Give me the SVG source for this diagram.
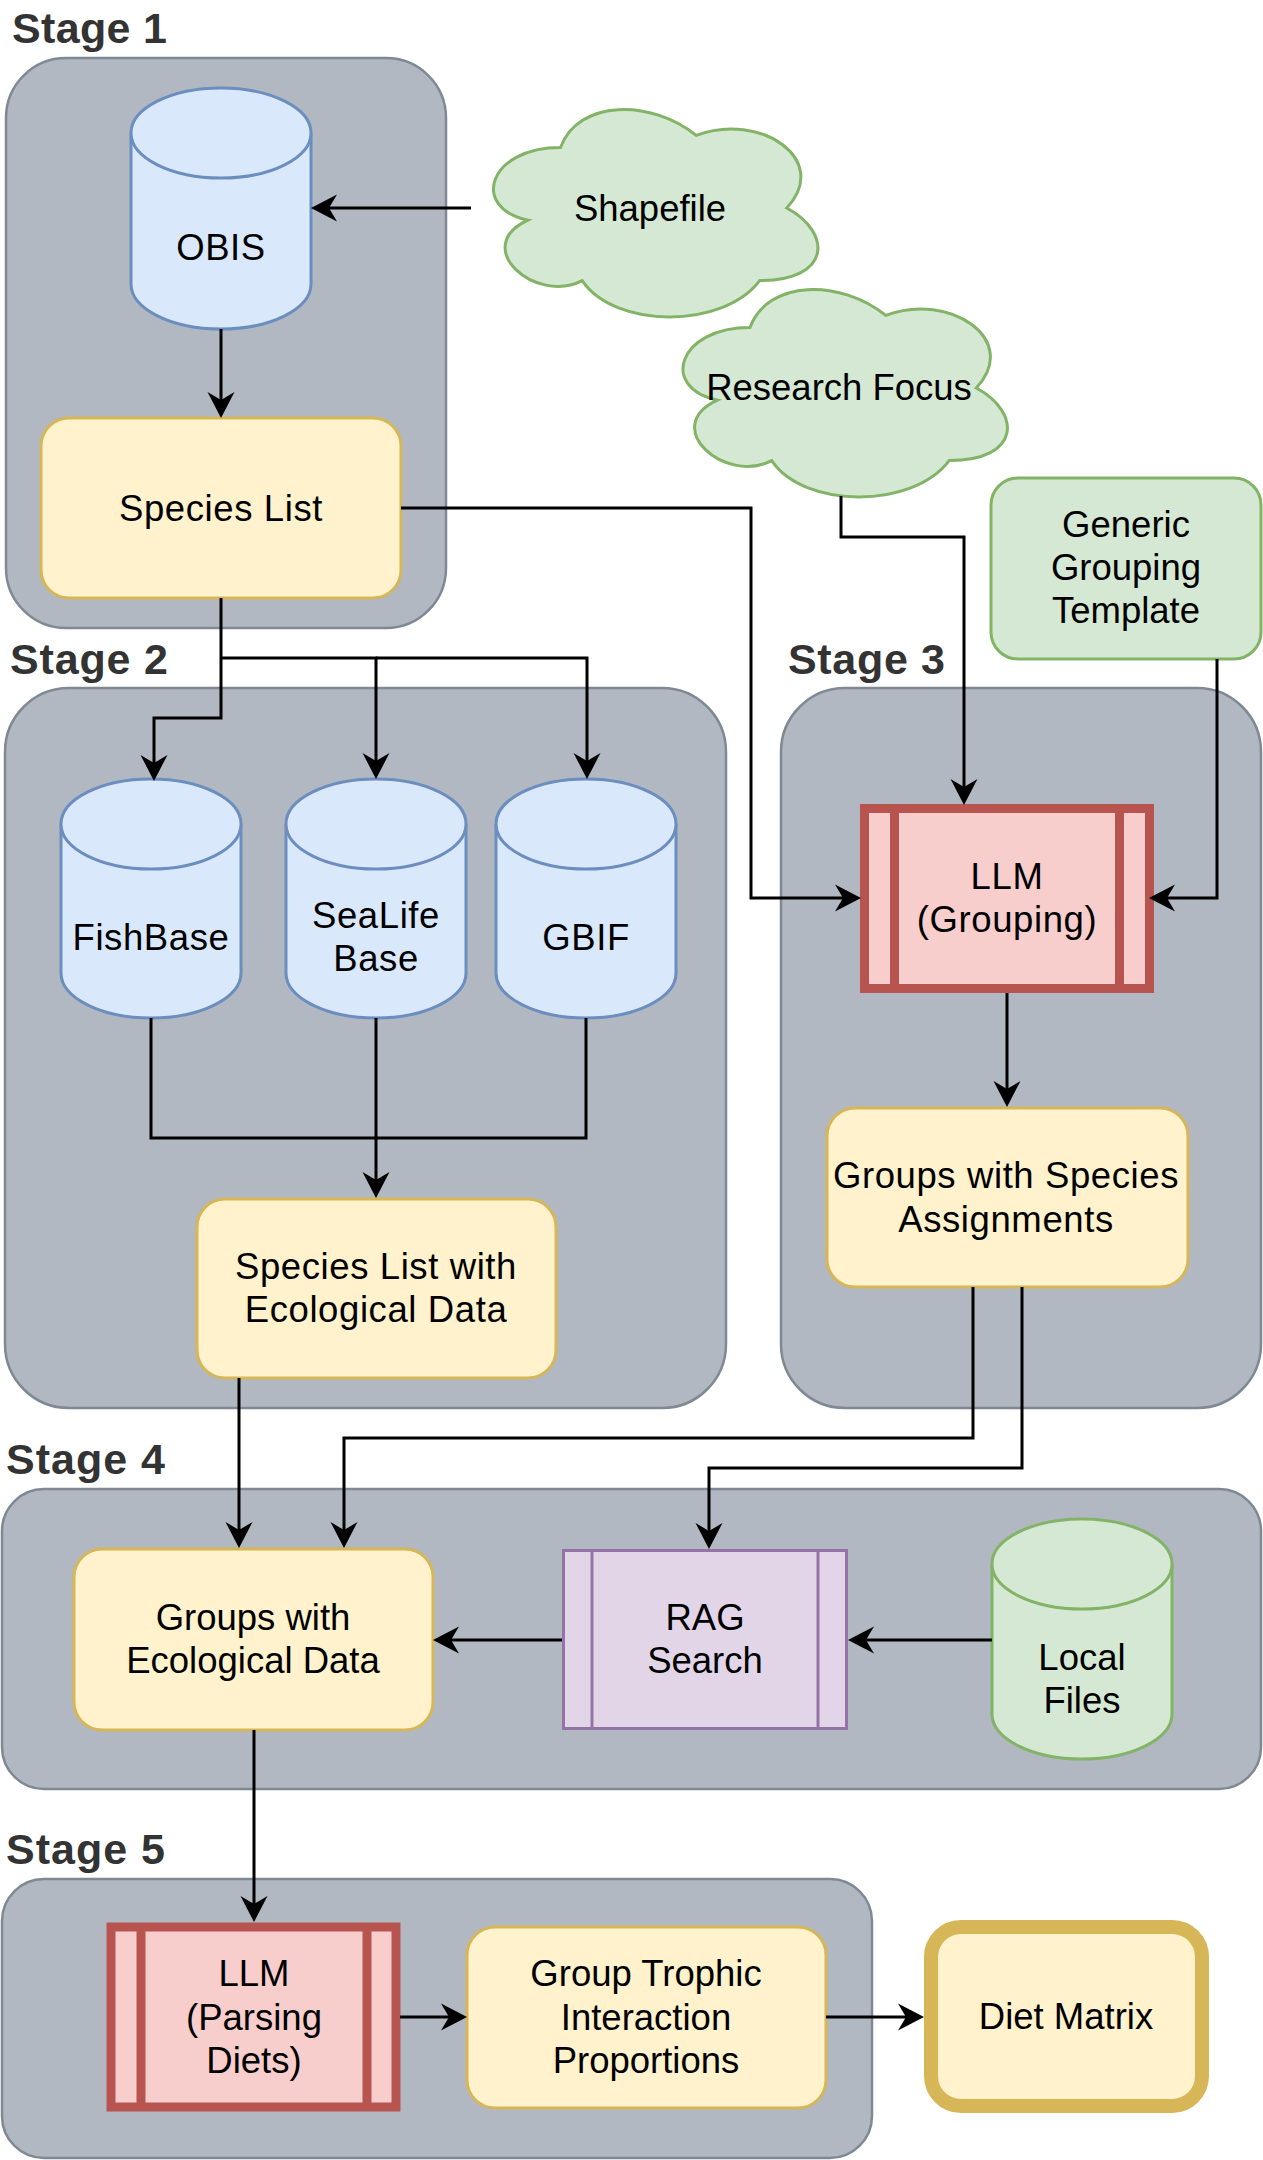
<svg xmlns="http://www.w3.org/2000/svg" xmlns:xlink="http://www.w3.org/1999/xlink" width="1263" height="2160" viewBox="0 0 1263 2160">
<style>
text{font-family:"Liberation Sans",Arial,sans-serif;font-size:36.5px;fill:#000;text-anchor:middle}
.wide{letter-spacing:0.6px}
.stage-label{font-weight:bold;font-size:43px;fill:#333;text-anchor:start}
.stage{fill:#b1b8c1;stroke:#7f8994;stroke-width:2.5}
.yellow{fill:#fff2cc;stroke:#d6b656;stroke-width:3}
.blue{fill:#dae8fc;stroke:#6c8ebf;stroke-width:3}
.green{fill:#d5e8d4;stroke:#82b366;stroke-width:3}
.red{fill:#f8cecc;stroke:#b85450;stroke-width:9}
.purple{fill:#e1d5e7;stroke:#9673a6;stroke-width:3}
.edge{fill:none;stroke:#000;stroke-width:3;marker-end:url(#arrow)}
.line{fill:none;stroke:#000;stroke-width:3}
</style>
<defs>
<marker id="arrow" markerUnits="userSpaceOnUse" viewBox="-23 -14 28 28" markerWidth="28" markerHeight="28" refX="0" refY="0" orient="auto">
<path d="M4,0 L-22,-13.5 L-14,0 L-22,13.5 Z" fill="#000"/>
</marker>
<path id="cloudShape" d="M560.5,147.5 C488.1,147.5 470,208 527.9,220.1 C470,246.7 535.2,304.8 582.2,280.6 C614.8,329 723.4,329 759.6,280.6 C832,280.6 832,232.2 786.75,208 C832,159.6 759.6,111.2 696.25,135.4 C651,99.1 578.6,99.1 560.5,147.5 Z"/>
</defs>

<g id="stages">
<g id="stage1"><rect class="stage" x="6" y="58" width="440" height="570" rx="60" ry="60"/><text class="stage-label" x="12" y="43" textLength="155" lengthAdjust="spacing">Stage 1</text></g>
<g id="stage2"><rect class="stage" x="5" y="688" width="721" height="720" rx="64" ry="64"/><text class="stage-label" x="10" y="674" textLength="158" lengthAdjust="spacing">Stage 2</text></g>
<g id="stage3"><rect class="stage" x="781" y="688" width="480" height="720" rx="64" ry="64"/><text class="stage-label" x="788" y="674" textLength="157" lengthAdjust="spacing">Stage 3</text></g>
<g id="stage4"><rect class="stage" x="2" y="1489" width="1259" height="300" rx="42" ry="42"/><text class="stage-label" x="6" y="1474" textLength="159" lengthAdjust="spacing">Stage 4</text></g>
<g id="stage5"><rect class="stage" x="2" y="1879" width="870" height="279" rx="42" ry="42"/><text class="stage-label" x="6" y="1864" textLength="159" lengthAdjust="spacing">Stage 5</text></g>
</g>

<g id="nodes">
<g id="obis" transform="translate(131,88)"><path class="blue" d="M0,45 A90,45 0 0 1 180,45 L180,196 A90,45 0 0 1 0,196 Z"/><path class="blue" fill="none" d="M0,45 A90,45 0 0 0 180,45"/><text class="wide" x="90" y="172">OBIS</text></g>
<g id="species-list"><rect class="yellow" x="41" y="418" width="360" height="180" rx="28" ry="28"/><text class="wide" x="221" y="521">Species List</text></g>
<g id="shapefile"><use xlink:href="#cloudShape" class="green"/><text x="650" y="221">Shapefile</text></g>
<g id="research-focus"><use xlink:href="#cloudShape" class="green" x="189.5" y="180"/><text x="839" y="400">Research Focus</text></g>
<g id="generic-template"><rect class="green" x="991" y="478" width="270" height="181" rx="27" ry="27"/><text x="1126" y="537">Generic</text><text x="1126" y="580">Grouping</text><text x="1126" y="623">Template</text></g>

<g id="fishbase" transform="translate(61,779)"><path class="blue" d="M0,45 A90,45 0 0 1 180,45 L180,194 A90,45 0 0 1 0,194 Z"/><path class="blue" fill="none" d="M0,45 A90,45 0 0 0 180,45"/><text class="wide" x="90" y="171">FishBase</text></g>
<g id="sealifebase" transform="translate(286,779)"><path class="blue" d="M0,45 A90,45 0 0 1 180,45 L180,194 A90,45 0 0 1 0,194 Z"/><path class="blue" fill="none" d="M0,45 A90,45 0 0 0 180,45"/><text class="wide" x="90" y="149">SeaLife</text><text class="wide" x="90" y="192">Base</text></g>
<g id="gbif" transform="translate(496,779)"><path class="blue" d="M0,45 A90,45 0 0 1 180,45 L180,194 A90,45 0 0 1 0,194 Z"/><path class="blue" fill="none" d="M0,45 A90,45 0 0 0 180,45"/><text class="wide" x="90" y="171">GBIF</text></g>
<g id="species-eco"><rect class="yellow" x="197" y="1199" width="359" height="179" rx="28" ry="28"/><text class="wide" x="376" y="1279">Species List with</text><text class="wide" x="376" y="1322">Ecological Data</text></g>

<g id="llm-grouping"><rect class="red" x="864.5" y="808.5" width="285" height="180"/><line class="red" x1="894.5" y1="808.5" x2="894.5" y2="988.5"/><line class="red" x1="1119.5" y1="808.5" x2="1119.5" y2="988.5"/><text class="wide" x="1007" y="889">LLM</text><text class="wide" x="1007" y="932">(Grouping)</text></g>
<g id="groups-species"><rect class="yellow" x="827" y="1108" width="361" height="179" rx="28" ry="28"/><text class="wide" x="1006" y="1188">Groups with Species</text><text class="wide" x="1006" y="1232">Assignments</text></g>

<g id="groups-eco"><rect class="yellow" x="74" y="1549" width="359" height="181" rx="28" ry="28"/><text x="253" y="1630">Groups with</text><text x="253" y="1673">Ecological Data</text></g>
<g id="rag-search"><rect class="purple" x="563.5" y="1550.5" width="283" height="178"/><line class="purple" x1="592" y1="1550.5" x2="592" y2="1728.5"/><line class="purple" x1="818" y1="1550.5" x2="818" y2="1728.5"/><text x="705" y="1630">RAG</text><text x="705" y="1673">Search</text></g>
<g id="local-files" transform="translate(992,1519)"><path class="green" d="M0,45 A90,45 0 0 1 180,45 L180,195 A90,45 0 0 1 0,195 Z"/><path class="green" fill="none" d="M0,45 A90,45 0 0 0 180,45"/><text x="90" y="151">Local</text><text x="90" y="194">Files</text></g>

<g id="llm-parsing"><rect class="red" x="111" y="1927" width="285" height="180"/><line class="red" x1="141" y1="1927" x2="141" y2="2107"/><line class="red" x1="367" y1="1927" x2="367" y2="2107"/><text x="254" y="1986">LLM</text><text x="254" y="2030">(Parsing</text><text x="254" y="2073">Diets)</text></g>
<g id="group-trophic"><rect class="yellow" x="467" y="1927" width="359" height="181" rx="28" ry="28"/><text x="646" y="1986">Group Trophic</text><text x="646" y="2030">Interaction</text><text x="646" y="2073">Proportions</text></g>
<g id="diet-matrix"><rect x="931" y="1927" width="271" height="179" rx="30" ry="30" fill="#fff2cc" stroke="#d6b656" stroke-width="14"/><text x="1066" y="2029">Diet Matrix</text></g>
</g>

<g id="connectors">
<path class="edge" d="M471,208 L315,208"/>
<path class="edge" d="M221,329 L221,414"/>
<path class="edge" d="M401,508 L751,508 L751,898 L857,898"/>
<path class="edge" d="M841,496 L841,537 L964,537 L964,801"/>
<path class="edge" d="M1217,659 L1217,898 L1153,898"/>
<path class="edge" d="M1007,993 L1007,1103"/>
<path class="edge" d="M221,598 L221,718 L154,718 L154,777"/>
<path class="edge" d="M221,658 L376,658 L376,775"/>
<path class="edge" d="M376,658 L587,658 L587,775"/>
<path class="line" d="M151,1018 L151,1138 L586,1138 L586,1018"/>
<path class="edge" d="M376,1018 L376,1194"/>
<path class="edge" d="M239,1378 L239,1544"/>
<path class="edge" d="M973,1287 L973,1438 L344,1438 L344,1544"/>
<path class="edge" d="M1022,1287 L1022,1468 L709,1468 L709,1545"/>
<path class="edge" d="M562,1640 L437,1640"/>
<path class="edge" d="M992,1640 L852,1640"/>
<path class="edge" d="M254,1730 L254,1918"/>
<path class="edge" d="M400,2017 L463,2017"/>
<path class="edge" d="M826,2017 L920,2017"/>
</g>
</svg>
